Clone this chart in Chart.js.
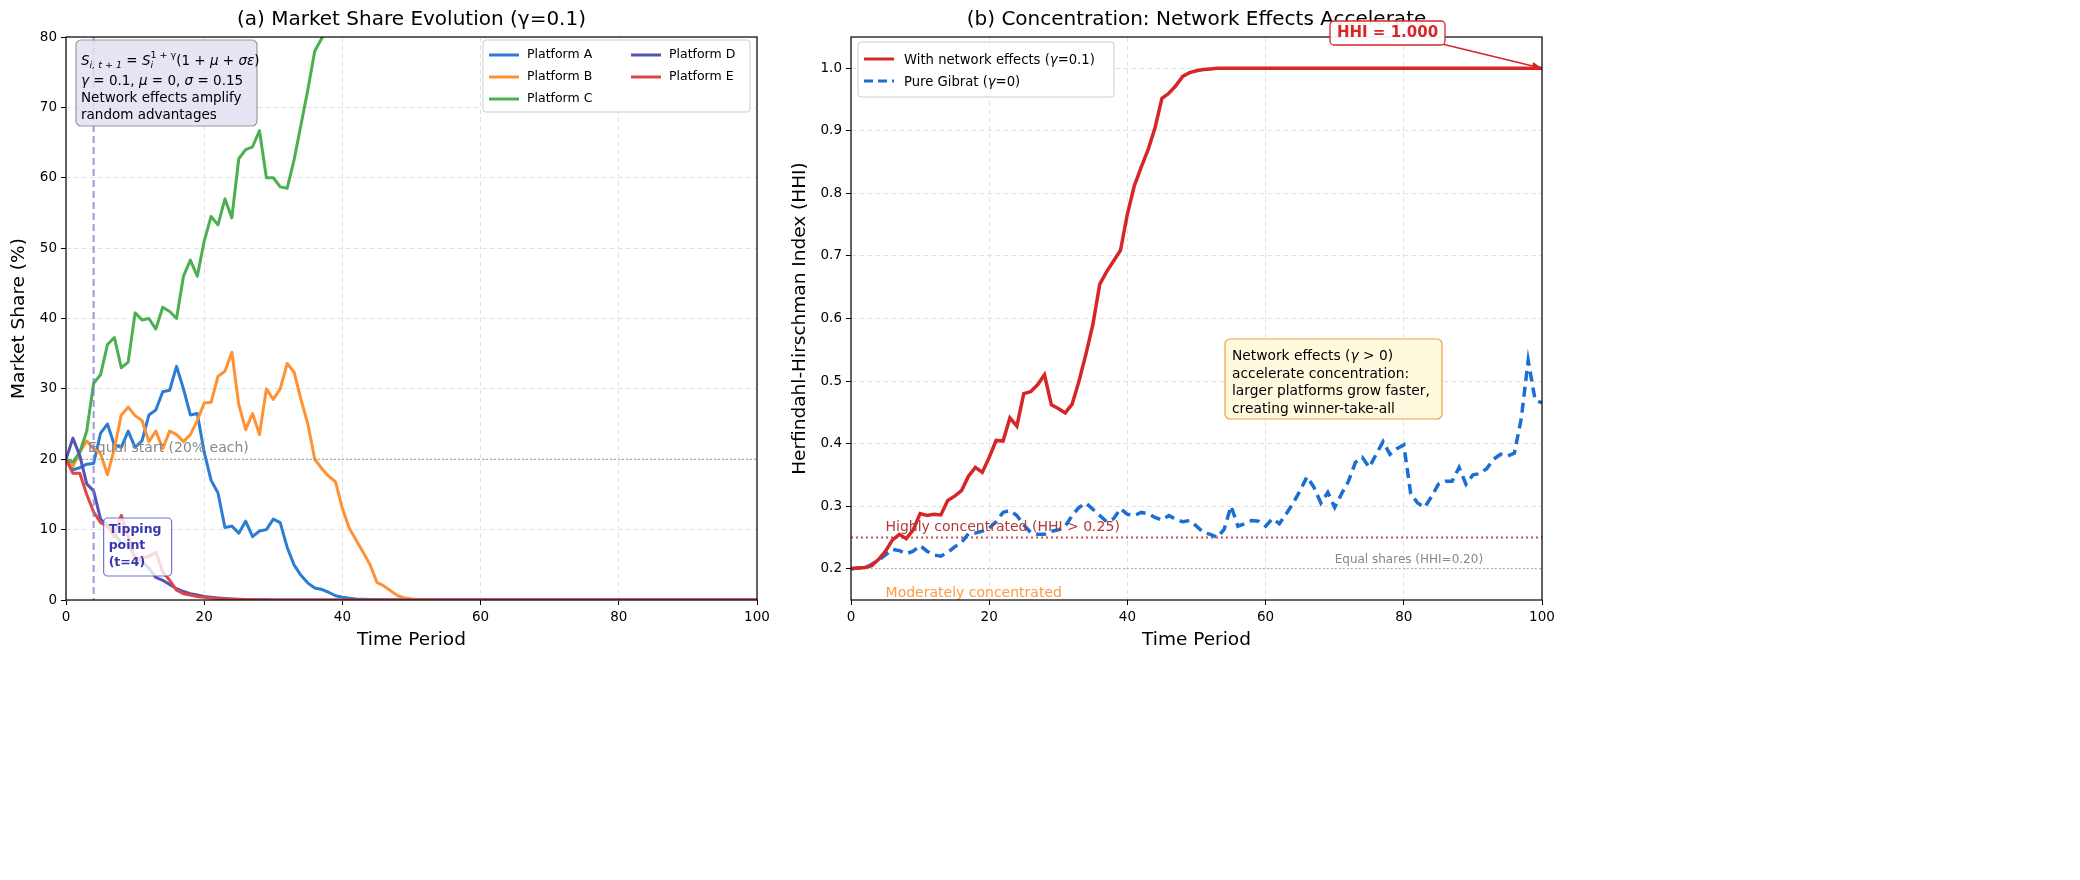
<!DOCTYPE html>
<html><head><meta charset="utf-8">
<script src="https://cdn.jsdelivr.net/npm/chart.js@4.4.0/dist/chart.umd.min.js"></script>
<style>
html,body{margin:0;padding:0;background:#fff;width:2080px;height:880px;overflow:hidden}
canvas{position:absolute;left:0;top:0}
</style></head><body>
<canvas id="c1" width="2080" height="880"></canvas>
<canvas id="c2" width="2080" height="880"></canvas>
<script>
// ---------------- DATA ----------------
const X_TICKS = [0, 20, 40, 60, 80, 100];
const SHARE_TICKS = [0, 10, 20, 30, 40, 50, 60, 70, 80];
const HHI_TICKS = [0.2, 0.3, 0.4, 0.5, 0.6, 0.7, 0.8, 0.9, 1.0];
const PLATFORMS = ['Platform A', 'Platform B', 'Platform C', 'Platform D', 'Platform E'];
const PLATFORM_COLORS = ['#2a7dd3', '#ff9233', '#4caf50', '#5353b8', '#e04646'];

const SHARE_A = [20,18.5,18.8,19.3,19.4,23.7,25,22,21.7,24,21.7,22.6,26.3,27,29.6,29.8,33.2,30,26.3,26.5,
21,17,15.2,10.3,10.5,9.5,11.2,9,9.8,10,11.5,11,7.5,5,3.5,2.4,1.7,1.5,1.1,0.6,
0.4,0.25,0.15,0.1,0.06,0.04,0.02,0.01,0,0,0,0,0,0,0,0,0,0,0,0,
0,0,0,0,0,0,0,0,0,0,0,0,0,0,0,0,0,0,0,0,
0,0,0,0,0,0,0,0,0,0,0,0,0,0,0,0,0,0,0,0,0];
const SHARE_B = [20,19,21,22.6,21.5,20.8,17.8,21.5,26.3,27.4,26.2,25.5,22.5,24,21.5,24,23.5,22.5,23.5,25.5,
28,28.1,31.8,32.5,35.2,27.8,24.2,26.5,23.5,30,28.5,30,33.6,32.4,28.5,25,20,18.7,17.6,16.8,
13,10.2,8.5,6.8,5,2.5,2,1.3,0.6,0.3,0.15,0.05,0.02,0,0,0,0,0,0,0,
0,0,0,0,0,0,0,0,0,0,0,0,0,0,0,0,0,0,0,0,
0,0,0,0,0,0,0,0,0,0,0,0,0,0,0,0,0,0,0,0,0];
const SHARE_C = [20,19.6,21,24,30.8,32,36.3,37.3,33,33.8,40.8,39.8,40,38.5,41.6,41,40,46,48.3,46,
51,54.5,53.3,57,54.3,62.7,64,64.4,66.7,60,60,58.7,58.5,62.5,67.5,72.5,78,79.8,81.3,82.6,
86.6,89.5,91.3,93.1,94.9,97.5,98,98.7,99.4,99.7,99.85,99.95,99.98,100,100,100,100,100,100,100,
100,100,100,100,100,100,100,100,100,100,100,100,100,100,100,100,100,100,100,100,
100,100,100,100,100,100,100,100,100,100,100,100,100,100,100,100,100,100,100,100,100];
const SHARE_D = [20,23,20.5,16.5,15.5,11.5,10.5,9.5,8,8,6,5.5,4.5,3.2,2.8,2.2,1.6,1.2,0.9,0.7,
0.5,0.4,0.3,0.22,0.15,0.1,0.07,0.05,0.03,0.02,0.01,0,0,0,0,0,0,0,0,0,
0,0,0,0,0,0,0,0,0,0,0,0,0,0,0,0,0,0,0,0,
0,0,0,0,0,0,0,0,0,0,0,0,0,0,0,0,0,0,0,0,
0,0,0,0,0,0,0,0,0,0,0,0,0,0,0,0,0,0,0,0,0];
const SHARE_E = [20,18,18,15,12.5,11,10.5,9,12,9,5.8,6,6.2,6.8,4,2.8,1.4,0.9,0.7,0.5,
0.4,0.3,0.2,0.14,0.1,0.07,0.05,0.03,0.02,0.01,0,0,0,0,0,0,0,0,0,0,
0,0,0,0,0,0,0,0,0,0,0,0,0,0,0,0,0,0,0,0,
0,0,0,0,0,0,0,0,0,0,0,0,0,0,0,0,0,0,0,0,
0,0,0,0,0,0,0,0,0,0,0,0,0,0,0,0,0,0,0,0,0];

const HHI_NETWORK = [0.2,0.201,0.202,0.205,0.215,0.228,0.246,0.255,0.248,0.262,0.288,0.285,0.287,0.286,0.309,0.316,0.325,0.348,0.362,0.354,
0.378,0.405,0.404,0.441,0.428,0.48,0.483,0.494,0.51,0.462,0.456,0.449,0.463,0.5,0.543,0.59,0.655,0.675,0.692,0.709,
0.767,0.812,0.842,0.87,0.905,0.952,0.96,0.972,0.987,0.993,0.996,0.998,0.999,1,1,1,1,1,1,1,
1,1,1,1,1,1,1,1,1,1,1,1,1,1,1,1,1,1,1,1,
1,1,1,1,1,1,1,1,1,1,1,1,1,1,1,1,1,1,1,1,1];
const HHI_GIBRAT = [0.2,0.201,0.201,0.207,0.214,0.222,0.231,0.229,0.224,0.228,0.237,0.228,0.222,0.22,0.226,0.235,0.242,0.256,0.257,0.26,
0.265,0.275,0.29,0.293,0.285,0.27,0.258,0.255,0.255,0.26,0.262,0.268,0.285,0.298,0.305,0.295,0.285,0.275,0.28,0.296,
0.287,0.285,0.29,0.288,0.282,0.278,0.285,0.279,0.275,0.277,0.268,0.258,0.255,0.25,0.263,0.3,0.268,0.272,0.277,0.276,
0.268,0.28,0.272,0.288,0.305,0.325,0.347,0.33,0.305,0.322,0.298,0.32,0.34,0.37,0.378,0.362,0.383,0.403,0.383,0.392,
0.398,0.32,0.305,0.298,0.315,0.335,0.34,0.34,0.362,0.335,0.35,0.352,0.36,0.375,0.383,0.38,0.385,0.44,0.533,0.47,0.465];

const SHARES = [SHARE_A, SHARE_B, SHARE_C, SHARE_D, SHARE_E];
// ---------------- HELPERS ----------------
const F = '"DejaVu Sans", sans-serif';
const toPts = arr => arr.map((v, i) => ({x: i, y: v}));

function rich(ctx, x, y, segs, size, color) {
  let cx = x, pending = 0;
  ctx.fillStyle = color || '#000';
  ctx.textBaseline = 'alphabetic';
  ctx.textAlign = 'left';
  for (const s of segs) {
    const sz = s.s || size;
    ctx.font = (s.b ? 'bold ' : '') + (s.i ? 'italic ' : '') + sz + 'px ' + F;
    ctx.fillText(s.t, cx, y + (s.dy || 0));
    const w = ctx.measureText(s.t).width;
    if (s.na) { pending = w; }
    else { cx += Math.max(w, pending); pending = 0; }
  }
  return cx;
}
function rbox(ctx, x, y, w, h, r, fill, stroke, lw) {
  ctx.beginPath();
  ctx.roundRect(x, y, w, h, r);
  if (fill) { ctx.fillStyle = fill; ctx.fill(); }
  if (stroke) { ctx.strokeStyle = stroke; ctx.lineWidth = lw || 1; ctx.stroke(); }
}
function hline(ctx, x1, x2, y, color, lw, dash) {
  ctx.save(); ctx.beginPath(); ctx.strokeStyle = color; ctx.lineWidth = lw; ctx.setLineDash(dash || []);
  ctx.moveTo(x1, y); ctx.lineTo(x2, y); ctx.stroke(); ctx.restore();
}
function text(ctx, s, x, y, size, color, align, weight) {
  ctx.font = (weight || '') + ' ' + size + 'px ' + F;
  ctx.fillStyle = color; ctx.textAlign = align || 'left'; ctx.textBaseline = 'middle';
  ctx.fillText(s, x, y);
}
function frameAndLabels(chart, title, xlabel, ylabel, ylabelX) {
  const {ctx, chartArea: ca} = chart;
  ctx.save();
  ctx.strokeStyle = '#000'; ctx.lineWidth = 1.2; ctx.setLineDash([]);
  ctx.strokeRect(ca.left, ca.top, ca.right - ca.left, ca.bottom - ca.top);
  const cx = (ca.left + ca.right) / 2;
  text(ctx, title, cx, 20, 20, '#000', 'center');
  text(ctx, xlabel, cx, 640, 18.5, '#000', 'center');
  ctx.save(); ctx.translate(ylabelX, (ca.top + ca.bottom) / 2); ctx.rotate(-Math.PI / 2);
  text(ctx, ylabel, 0, 0, 18.5, '#000', 'center'); ctx.restore();
  ctx.restore();
}
function legendLine(ctx, x, y, color, dash, lw) {
  ctx.save(); ctx.beginPath(); ctx.strokeStyle = color; ctx.lineWidth = lw || 3; ctx.setLineDash(dash || []);
  ctx.moveTo(x, y); ctx.lineTo(x + 30, y); ctx.stroke(); ctx.restore();
}

function scaleCfg(min, max, ticksArr, fmt, fixed, isX) {
  return {
    type: 'linear', min, max,
    afterBuildTicks: s => { s.ticks = ticksArr.map(v => ({value: v})); },
    afterFit: s => { if (isX) s.height = fixed; else s.width = fixed; },
    ticks: {color: '#000', font: {family: F, size: 13.5}, padding: 4, callback: fmt, maxRotation: 0, autoSkip: false},
    grid: {color: '#e2e2e2', lineWidth: 1, tickColor: '#000', tickWidth: 1, tickLength: 5, tickBorderDash: []},
    border: {display: false, dash: [5, 3]}
  };
}

Chart.defaults.font.family = F;
Chart.defaults.animation = false;

// ---------------- CHART (a) ----------------
const ann1 = {
  id: 'ann1',
  afterDatasetsDraw(chart) {
    const {ctx, chartArea: ca, scales: {x, y}} = chart;
    ctx.save();
    // equal start line
    hline(ctx, ca.left, ca.right, y.getPixelForValue(20), 'rgba(120,120,120,0.75)', 1, [2, 2]);
    text(ctx, 'Equal start (20% each)', ca.left + 22, y.getPixelForValue(20) - 11, 14, '#888', 'left');
    // tipping point vertical
    ctx.beginPath(); ctx.strokeStyle = 'rgba(120,120,210,0.75)'; ctx.lineWidth = 2; ctx.setLineDash([7, 4]);
    const tx = x.getPixelForValue(4);
    ctx.moveTo(tx, ca.top); ctx.lineTo(tx, ca.bottom); ctx.stroke(); ctx.setLineDash([]);
    // tipping point box
    rbox(ctx, tx + 10, 518, 68, 58, 4, 'rgba(255,255,255,0.8)', 'rgba(90,90,200,0.85)', 1.2);
    ctx.font = 'bold 12.5px ' + F; ctx.fillStyle = '#3a35b0'; ctx.textAlign = 'left'; ctx.textBaseline = 'middle';
    ctx.fillText('Tipping', tx + 15, 530); ctx.fillText('point', tx + 15, 546); ctx.fillText('(t=4)', tx + 15, 563);
    // formula box
    rbox(ctx, ca.left + 10, 40, 181, 86, 5, 'rgba(225,225,242,0.85)', '#999', 1.2);
    const fx = ca.left + 15, fs = 13.5;
    rich(ctx, fx, 65, [
      {t: 'S', i: 1}, {t: 'i, t + 1', i: 1, s: 9.5, dy: 3},
      {t: ' = '}, {t: 'S', i: 1}, {t: '1 + γ', s: 9.5, dy: -7, na: 1}, {t: 'i', i: 1, s: 9.5, dy: 3},
      {t: '(1 + '}, {t: 'μ', i: 1}, {t: ' + '}, {t: 'σε', i: 1}, {t: ')'}
    ], fs);
    rich(ctx, fx, 85, [{t: 'γ', i: 1}, {t: ' = 0.1, '}, {t: 'μ', i: 1}, {t: ' = 0, '}, {t: 'σ', i: 1}, {t: ' = 0.15'}], fs);
    rich(ctx, fx, 102, [{t: 'Network effects amplify'}], fs);
    rich(ctx, fx, 119, [{t: 'random advantages'}], fs);
    // legend
    rbox(ctx, 483, 40, 267, 72, 3, 'rgba(255,255,255,0.85)', '#cccccc', 1);
    const pos = [[489, 55], [489, 77], [489, 99], [631, 55], [631, 77]];
    PLATFORMS.forEach((p, i) => {
      legendLine(ctx, pos[i][0], pos[i][1], PLATFORM_COLORS[i], [], 3);
      text(ctx, p, pos[i][0] + 38, pos[i][1], 12.5, '#000', 'left');
    });
    ctx.restore();
  },
  afterDraw(chart) {
    frameAndLabels(chart, '(a) Market Share Evolution (γ=0.1)', 'Time Period', 'Market Share (%)', 19);
  }
};

new Chart(document.getElementById('c1'), {
  type: 'line',
  data: {
    datasets: SHARES.map((arr, i) => ({
      label: PLATFORMS[i], data: toPts(arr), borderColor: PLATFORM_COLORS[i], backgroundColor: PLATFORM_COLORS[i],
      borderWidth: 3, pointRadius: 0, tension: 0, order: 5 - i, borderJoinStyle: 'round'
    }))
  },
  options: {
    responsive: false, devicePixelRatio: 1,
    layout: {padding: {left: 0, right: 2080 - 757, top: 37, bottom: 230}},
    plugins: {legend: {display: false}, tooltip: {enabled: false}},
    scales: {
      x: scaleCfg(0, 100, X_TICKS, v => v, 50, true),
      y: scaleCfg(0, 80, SHARE_TICKS, v => v, 66, false)
    }
  },
  plugins: [ann1]
});

// ---------------- CHART (b) ----------------
const ann2 = {
  id: 'ann2',
  beforeDatasetsDraw(chart) {
    const {ctx, chartArea: ca, scales: {x, y}} = chart;
    hline(ctx, ca.left, ca.right, y.getPixelForValue(0.25), 'rgba(190,50,50,0.85)', 2, [2, 3]);
    hline(ctx, ca.left, ca.right, y.getPixelForValue(0.2), 'rgba(130,130,130,0.6)', 1, [2, 2]);
  },
  afterDatasetsDraw(chart) {
    const {ctx, chartArea: ca, scales: {x, y}} = chart;
    ctx.save();
    text(ctx, 'Highly concentrated (HHI > 0.25)', x.getPixelForValue(5), y.getPixelForValue(0.25) - 10, 14, '#b03a3a', 'left');
    text(ctx, 'Moderately concentrated', x.getPixelForValue(5), 593, 14, '#ff9a40', 'left');
    text(ctx, 'Equal shares (HHI=0.20)', x.getPixelForValue(70), y.getPixelForValue(0.2) - 9, 12, '#888', 'left');
    // annotation box
    rbox(ctx, 1225, 339, 217, 80, 5, 'rgba(255,250,220,0.95)', '#f0a040', 1.2);
    const ax = 1232;
    rich(ctx, ax, 360, [{t: 'Network effects ('}, {t: 'γ', i: 1}, {t: ' > 0)'}], 13.8);
    rich(ctx, ax, 377.5, [{t: 'accelerate concentration:'}], 13.8);
    rich(ctx, ax, 395, [{t: 'larger platforms grow faster,'}], 13.8);
    rich(ctx, ax, 412.5, [{t: 'creating winner-take-all'}], 13.8);
    // HHI arrow
    const ex = x.getPixelForValue(100), ey = y.getPixelForValue(HHI_NETWORK[100]);
    const sx = 1442, sy = 44;
    ctx.beginPath(); ctx.strokeStyle = '#d62728'; ctx.lineWidth = 1.5; ctx.setLineDash([]);
    ctx.moveTo(sx, sy); ctx.lineTo(ex, ey); ctx.stroke();
    const ang = Math.atan2(ey - sy, ex - sx);
    ctx.beginPath(); ctx.fillStyle = '#d62728';
    ctx.moveTo(ex, ey);
    ctx.lineTo(ex - 10 * Math.cos(ang) + 4 * Math.sin(ang), ey - 10 * Math.sin(ang) - 4 * Math.cos(ang));
    ctx.lineTo(ex - 10 * Math.cos(ang) - 4 * Math.sin(ang), ey - 10 * Math.sin(ang) + 4 * Math.cos(ang));
    ctx.closePath(); ctx.fill();
    // legend
    rbox(ctx, 858, 42, 256, 55, 3, 'rgba(255,255,255,0.85)', '#cccccc', 1);
    legendLine(ctx, 864, 59, '#d62728', [], 3);
    rich(ctx, 904, 64, [{t: 'With network effects ('}, {t: 'γ', i: 1}, {t: '=0.1)'}], 13.2);
    legendLine(ctx, 864, 81, '#1a6ed4', [9, 5], 3);
    rich(ctx, 904, 86, [{t: 'Pure Gibrat ('}, {t: 'γ', i: 1}, {t: '=0)'}], 13.2);
    ctx.restore();
  },
  afterDraw(chart) {
    frameAndLabels(chart, '(b) Concentration: Network Effects Accelerate', 'Time Period', 'Herfindahl-Hirschman Index (HHI)', 800);
    const {ctx} = chart;
    ctx.save();
    rbox(ctx, 1330, 21, 115, 24, 4, 'rgba(255,255,255,0.92)', '#d62728', 1.3);
    text(ctx, 'HHI = 1.000', 1387.5, 33, 15, '#d62728', 'center', 'bold');
    ctx.restore();
  }
};

new Chart(document.getElementById('c2'), {
  type: 'line',
  data: {
    datasets: [
      {label: 'With network effects (γ=0.1)', data: toPts(HHI_NETWORK), borderColor: '#d62728', borderWidth: 3.5,
        pointRadius: 0, tension: 0, order: 0},
      {label: 'Pure Gibrat (γ=0)', data: toPts(HHI_GIBRAT), borderColor: '#1a6ed4', borderWidth: 3.5,
        borderDash: [10, 6], pointRadius: 0, tension: 0, order: 1}
    ]
  },
  options: {
    responsive: false, devicePixelRatio: 1,
    layout: {padding: {left: 781, right: 2080 - 1542, top: 37, bottom: 230}},
    plugins: {legend: {display: false}, tooltip: {enabled: false}},
    scales: {
      x: scaleCfg(0, 100, X_TICKS, v => v, 50, true),
      y: scaleCfg(0.15, 1.05, HHI_TICKS, v => v.toFixed(1), 70, false)
    }
  },
  plugins: [ann2]
});
</script>
</body></html>
